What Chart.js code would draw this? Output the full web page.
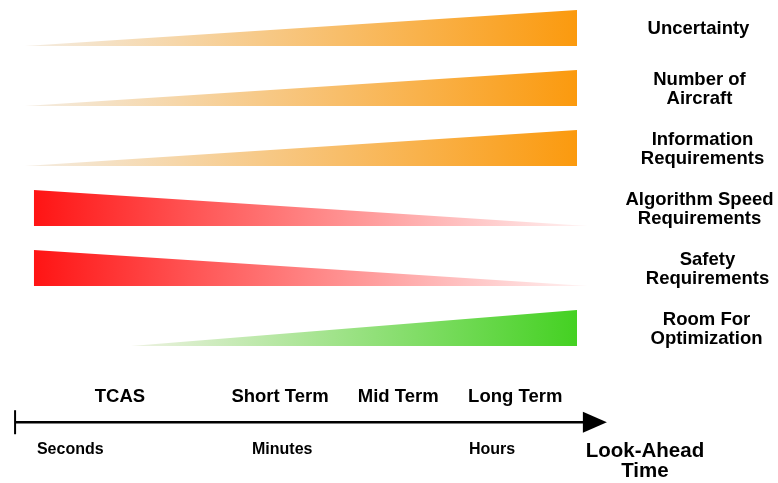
<!DOCTYPE html>
<html>
<head>
<meta charset="utf-8">
<script src="https://cdn.jsdelivr.net/npm/chart.js@4.4.1/dist/chart.umd.min.js"></script>
<style>
  html, body { margin: 0; padding: 0; background: #fff; }
  #wrap { width: 778px; height: 483px; }
</style>
</head>
<body>
<div id="wrap"><canvas id="lookAhead" width="778" height="483"></canvas></div>
<script>
// one row per factor, top to bottom
const rowLabels = [["Uncertainty"], ["Number of", "Aircraft"], ["Information", "Requirements"],
  ["Algorithm Speed", "Requirements"], ["Safety", "Requirements"], ["Room For", "Optimization"]];
// where each wedge begins / ends on the look-ahead scale (0 = seconds side, 100 = hours side)
const wedgeStart = [0, 0, 0, 1.6, 1.6, 19.2];
const wedgeEnd = [100, 100, 100, 102, 102, 100];
const wedgeTrend = ["up", "up", "up", "down", "down", "up"];
const wedgeTop = 0.6;

// look-ahead time axis
const horizonLabels = ["TCAS", "Short Term", "Mid Term", "Long Term"];
const horizonPos = [17.2, 46.2, 67.6, 88.8];
const unitLabels = ["Seconds", "Minutes", "Hours"];
const unitPos = [8.2, 46.6, 84.6];
const axisStart = -1.8;
const axisEnd = 105.4;
const axisLevel = -6.27;
const axisTitle = ["Look-Ahead", "Time"];

// colours: [left end, right end]
const rowColors = [
  ["#f4ede3", "#fb9a0e"], ["#f4ede3", "#fb9a0e"], ["#f4ede3", "#fb9a0e"],
  ["#ff1414", "#fff4f4"], ["#ff1414", "#fff4f4"],
  ["#eef2e2", "#44d122"]
];
const labelShift = [0, 1, 4, 1, 9, 8];
const FONT = '"Liberation Sans", Arial, sans-serif';

const datasets = rowLabels.map((lab, i) => {
  const base = -i;
  const up = wedgeTrend[i] === "up";
  return {
    label: lab.join(" "),
    data: [
      { x: wedgeStart[i], y: up ? base : base + wedgeTop },
      { x: wedgeEnd[i], y: up ? base + wedgeTop : base }
    ],
    fill: { value: base },
    borderWidth: 0,
    borderColor: "transparent",
    pointRadius: 0,
    backgroundColor: (ctx) => {
      const chart = ctx.chart;
      if (!chart.chartArea) return rowColors[i][1];
      const xs = chart.scales.x;
      const g = chart.ctx.createLinearGradient(xs.getPixelForValue(wedgeStart[i]), 0, xs.getPixelForValue(wedgeEnd[i]), 0);
      g.addColorStop(0, rowColors[i][0]);
      g.addColorStop(1, rowColors[i][1]);
      return g;
    }
  };
});

const decor = {
  id: "decor",
  afterDraw(chart) {
    const c = chart.ctx;
    const xs = chart.scales.x, ys = chart.scales.y;
    c.save();
    c.fillStyle = "#000";
    c.strokeStyle = "#000";
    c.textAlign = "center";
    c.textBaseline = "middle";

    // row labels
    c.font = "bold 18.5px " + FONT;
    rowLabels.forEach((lines, i) => {
      const mid = ys.getPixelForValue(-i + wedgeTop / 2) + 1;
      const x = xs.getPixelForValue(122) + labelShift[i];
      lines.forEach((t, k) => {
        c.fillText(t, x, mid + (k - (lines.length - 1) / 2) * 18.8);
      });
    });

    // axis line, start tick and arrow head
    const ay = ys.getPixelForValue(axisLevel);
    const x0 = xs.getPixelForValue(axisStart), x1 = xs.getPixelForValue(axisEnd);
    c.lineWidth = 2.5;
    c.beginPath();
    c.moveTo(x0, ay);
    c.lineTo(x1 - 20, ay);
    c.stroke();
    c.lineWidth = 2;
    c.beginPath();
    c.moveTo(x0, ay - 12);
    c.lineTo(x0, ay + 12);
    c.stroke();
    c.beginPath();
    c.moveTo(x1, ay);
    c.lineTo(x1 - 24, ay - 10.5);
    c.lineTo(x1 - 24, ay + 10.5);
    c.closePath();
    c.fill();

    c.font = "bold 18.5px " + FONT;
    horizonLabels.forEach((t, i) => c.fillText(t, xs.getPixelForValue(horizonPos[i]), ay - 25));
    c.font = "bold 16px " + FONT;
    unitLabels.forEach((t, i) => c.fillText(t, xs.getPixelForValue(unitPos[i]), ay + 27));
    c.font = "bold 20.5px " + FONT;
    axisTitle.forEach((t, k) => c.fillText(t, xs.getPixelForValue(112.3), ay + 29 + k * 20.5));
    c.restore();
  }
};

new Chart("lookAhead", {
  type: "line",
  data: { datasets: datasets },
  options: {
    responsive: false,
    animation: false,
    layout: { padding: 0 },
    plugins: { legend: { display: false }, tooltip: { enabled: false } },
    scales: {
      x: { type: "linear", min: -4.53, max: 136.4, display: false },
      y: { type: "linear", min: -7.283, max: 0.767, display: false }
    }
  },
  plugins: [decor]
});
</script>
</body>
</html>
